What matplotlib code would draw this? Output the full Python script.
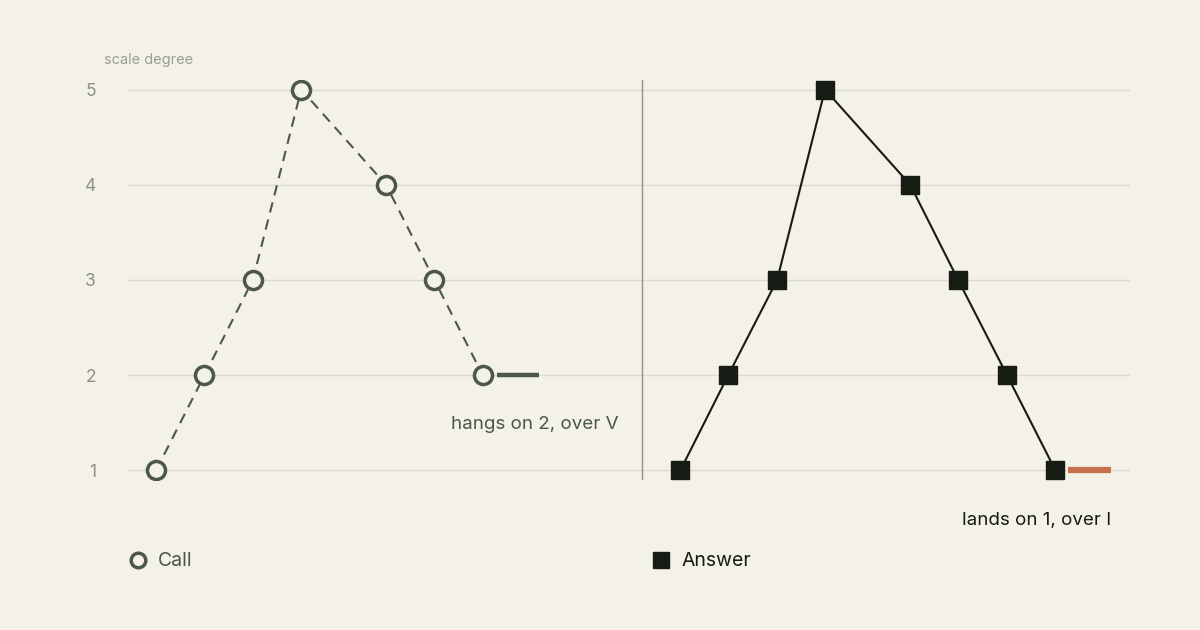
import matplotlib
matplotlib.use("Agg")
import matplotlib.pyplot as plt

# scale degrees of each phrase, x in beats
call_x = [0, 1, 2, 3, 4.75, 5.75, 6.75]
call_y = [1, 2, 3, 5, 4, 3, 2]
call_hold = [7.05, 7.91]

answer_x = [10.83, 11.82, 12.83, 13.82, 15.58, 16.57, 17.58, 18.58]
answer_y = [1, 2, 3, 5, 4, 3, 2, 1]
answer_hold = [18.84, 19.73]

degrees = [1, 2, 3, 4, 5]
divider_x = 10.04

bg = "#f3f1e8"
call_col = "#4b5849"
ans_col = "#161b14"
land_col = "#c8704b"

plt.rcParams["font.family"] = ["Inter", "DejaVu Sans"]

fig = plt.figure(figsize=(12, 6.3), dpi=100, facecolor=bg)
ax = fig.add_axes([128 / 1200, 150 / 630, 1002 / 1200, 400 / 630])
ax.set_facecolor(bg)
ax.set_xlim(-0.579, 20.12)
ax.set_ylim(0.9, 5.1)

for d in degrees:
    ax.axhline(d, color="#dcdccb", lw=1, zorder=0)
ax.axvline(divider_x, color="#8d938b", lw=1, zorder=1)

ax.plot(call_x, call_y, color=call_col, lw=1.5, ls=(0, (5, 3.5)),
        marker="o", ms=13, mfc=bg, mec=call_col, mew=2.5, zorder=3)
ax.plot(call_hold, [call_y[-1]] * 2, color=call_col, lw=3.2,
        solid_capstyle="butt", zorder=3)

ax.plot(answer_x, answer_y, color=ans_col, lw=1.5,
        marker="s", ms=13, mfc=ans_col, mec=ans_col, zorder=3)
ax.plot(answer_hold, [answer_y[-1]] * 2, color=land_col, lw=4.5,
        solid_capstyle="butt", zorder=3)

ax.text(6.1, 1.48, "hangs on 2, over V", color=call_col, fontsize=13.5,
        ha="left", va="center")
ax.text(19.73, 0.48, "lands on 1, over I", color=ans_col, fontsize=13.5,
        ha="right", va="center", clip_on=False)

ax.set_yticks(degrees)
ax.set_yticklabels([str(d) for d in degrees])
ax.tick_params(axis="y", length=0, pad=23, labelsize=12.5, labelcolor="#8b9285")
ax.set_xticks([])
for s in ax.spines.values():
    s.set_visible(False)

fig.text(104 / 1200, 1 - 60 / 630, "scale degree", color="#9a9f92",
         fontsize=10.5, ha="left", va="center")

# legend
fig.lines.append(plt.Line2D([138 / 1200], [1 - 560 / 630], transform=fig.transFigure,
                            marker="o", ms=10.5, mfc=bg, mec=call_col, mew=2.5, ls=""))
fig.text(158 / 1200, 1 - 561 / 630, "Call", color=call_col, fontsize=14,
         ha="left", va="center")
fig.lines.append(plt.Line2D([661 / 1200], [1 - 560 / 630], transform=fig.transFigure,
                            marker="s", ms=11.5, mfc=ans_col, mec=ans_col, ls=""))
fig.text(682 / 1200, 1 - 561 / 630, "Answer", color=ans_col, fontsize=14,
         ha="left", va="center")

fig.savefig("out.png", dpi=100, facecolor=bg)
